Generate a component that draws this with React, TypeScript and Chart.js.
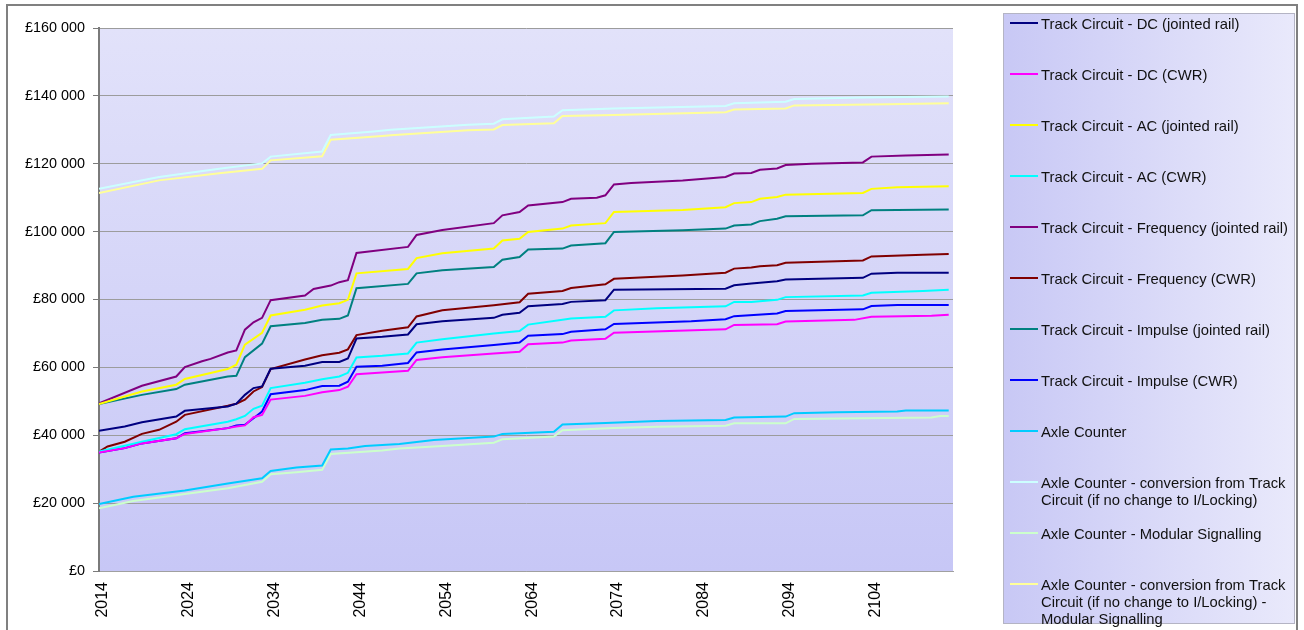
import React, { useEffect, useRef } from 'react';
import { Chart, registerables } from 'chart.js';

Chart.register(...registerables);

// Cumulative whole-life cost per train detection option, [year, £] at each change of slope
const DC_JOINTED: [number, number][] = [[2014,41300],[2017,42600],[2019,43800],[2023,45500],[2024,47200],[2029,48500],[2030,49300],[2031,51900],[2032,53900],[2033,54400],[2034,59600],[2038,60500],[2040,61600],[2042,61600],[2043,62600],[2044,68500],[2047,69000],[2050,69700],[2051,72700],[2054,73600],[2060,74600],[2061,75500],[2063,76100],[2064,78000],[2068,78700],[2069,79300],[2073,79800],[2074,82900],[2087,83200],[2088,84200],[2090,84700],[2091,84900],[2093,85400],[2094,85900],[2103,86400],[2104,87600],[2107,87900],[2113,87900]];
const DC_CWR: [number, number][] = [[2014,34900],[2017,36200],[2019,37600],[2023,39100],[2024,40400],[2029,42100],[2030,42600],[2031,42900],[2032,45300],[2033,46000],[2034,50500],[2038,51600],[2040,52700],[2042,53300],[2043,54300],[2044,58000],[2047,58500],[2050,59000],[2051,62200],[2054,63000],[2060,64100],[2063,64600],[2064,66800],[2068,67300],[2069,67900],[2073,68400],[2074,70200],[2087,71200],[2088,72500],[2093,72700],[2094,73500],[2102,74000],[2104,74900],[2111,75200],[2113,75500]];
const AC_JOINTED: [number, number][] = [[2014,49200],[2019,52900],[2023,54900],[2024,56600],[2029,59500],[2030,60800],[2031,66700],[2033,70200],[2034,75300],[2038,77000],[2040,78200],[2042,78900],[2043,79900],[2044,87700],[2050,89000],[2051,92200],[2054,93600],[2060,95000],[2061,97400],[2063,97900],[2064,99900],[2068,100900],[2069,101800],[2073,102500],[2074,105800],[2082,106400],[2087,107200],[2088,108400],[2090,108700],[2091,109700],[2093,110200],[2094,110900],[2103,111400],[2104,112600],[2107,113100],[2113,113400]];
const AC_CWR: [number, number][] = [[2014,35200],[2017,36900],[2019,38100],[2023,40300],[2024,41800],[2029,44000],[2030,44700],[2031,45700],[2032,47800],[2033,48700],[2034,53900],[2038,55500],[2040,56500],[2042,57300],[2043,58400],[2044,62900],[2047,63400],[2050,64100],[2051,67300],[2054,68300],[2060,70000],[2063,70700],[2064,72600],[2068,74000],[2069,74400],[2073,74900],[2074,76800],[2079,77400],[2087,78000],[2088,79300],[2090,79300],[2093,79900],[2094,80700],[2103,81200],[2104,82000],[2110,82500],[2113,82900]];
const FREQ_JOINTED: [number, number][] = [[2014,49400],[2019,54600],[2023,57300],[2024,60100],[2026,61800],[2027,62500],[2029,64400],[2030,65000],[2031,71100],[2032,73300],[2033,74600],[2034,79800],[2038,81200],[2039,83100],[2041,84100],[2042,85100],[2043,85700],[2044,93700],[2050,95500],[2051,99000],[2054,100500],[2060,102500],[2061,104800],[2063,105800],[2064,107700],[2068,108700],[2069,109700],[2072,110000],[2073,110700],[2074,113900],[2076,114300],[2082,115100],[2087,116100],[2088,117100],[2090,117300],[2091,118200],[2093,118600],[2094,119600],[2097,120000],[2103,120400],[2104,122100],[2108,122400],[2113,122700]];
const FREQ_CWR: [number, number][] = [[2014,35200],[2015,36700],[2017,38100],[2019,40400],[2021,41600],[2023,44000],[2024,46000],[2029,48700],[2030,49300],[2031,50500],[2032,52900],[2033,54200],[2034,59500],[2038,62300],[2040,63600],[2042,64300],[2043,65300],[2044,69500],[2047,70800],[2050,71800],[2051,75000],[2054,76800],[2060,78300],[2063,79200],[2064,81700],[2068,82500],[2069,83400],[2073,84500],[2074,86100],[2082,87100],[2087,87900],[2088,89100],[2090,89400],[2091,89800],[2093,90100],[2094,90800],[2103,91500],[2104,92700],[2110,93200],[2113,93400]];
const IMPULSE_JOINTED: [number, number][] = [[2014,49200],[2019,51900],[2023,53600],[2024,54900],[2029,57300],[2030,57500],[2031,63000],[2033,67000],[2034,72100],[2038,73100],[2040,74000],[2042,74300],[2043,75300],[2044,83300],[2050,84600],[2051,87700],[2054,88600],[2060,89600],[2061,91700],[2063,92500],[2064,94700],[2068,95000],[2069,95900],[2073,96600],[2074,99900],[2082,100400],[2087,100900],[2088,101800],[2090,102100],[2091,103100],[2093,103800],[2094,104500],[2103,104800],[2104,106300],[2113,106500]];
const IMPULSE_CWR: [number, number][] = [[2014,34900],[2017,36200],[2019,37600],[2023,39100],[2024,40600],[2029,42100],[2030,42900],[2031,43100],[2032,45000],[2033,47000],[2034,52100],[2038,53300],[2040,54500],[2042,54600],[2043,55800],[2044,60200],[2047,60500],[2050,61300],[2051,64400],[2054,65300],[2060,66600],[2063,67300],[2064,69300],[2068,69800],[2069,70500],[2073,71200],[2074,72800],[2083,73600],[2087,74200],[2088,75100],[2093,75900],[2094,76600],[2103,77100],[2104,78100],[2107,78400],[2113,78400]];
const AXLE_COUNTER: [number, number][] = [[2014,19700],[2018,21900],[2024,23700],[2029,25800],[2033,27300],[2034,29500],[2037,30500],[2040,31100],[2041,35800],[2043,36100],[2045,36800],[2049,37400],[2053,38600],[2060,39600],[2061,40400],[2067,41000],[2068,43200],[2073,43600],[2079,44200],[2087,44500],[2088,45200],[2094,45500],[2095,46500],[2100,46800],[2107,47000],[2108,47300],[2113,47300]];
const AXLE_CONVERSION: [number, number][] = [[2014,112600],[2021,116100],[2028,118500],[2033,120100],[2034,122100],[2040,123600],[2041,128500],[2046,129500],[2048,130000],[2057,131500],[2060,131800],[2061,133100],[2067,133900],[2068,135800],[2074,136300],[2087,137000],[2088,137800],[2094,138300],[2095,139100],[2103,139500],[2113,139800]];
const AXLE_MODULAR: [number, number][] = [[2014,18500],[2018,20600],[2024,22700],[2029,24400],[2033,26300],[2034,28500],[2037,29100],[2040,29800],[2041,34500],[2047,35500],[2049,36100],[2054,36800],[2060,37800],[2061,38800],[2067,39600],[2068,41500],[2074,42100],[2079,42500],[2087,42800],[2088,43500],[2094,43500],[2095,44800],[2103,45000],[2111,45200],[2112,45700],[2113,45700]];
const AXLE_CONVERSION_MODULAR: [number, number][] = [[2014,111400],[2021,115100],[2028,117200],[2033,118500],[2034,121000],[2040,122200],[2041,127100],[2047,128200],[2048,128400],[2057,129900],[2060,130100],[2061,131400],[2067,131900],[2068,134100],[2074,134400],[2087,135200],[2088,136000],[2094,136300],[2095,137200],[2106,137500],[2113,137800]];

const SERIES_NAMES = [
  'Track Circuit - DC (jointed rail)',
  'Track Circuit - DC (CWR)',
  'Track Circuit - AC (jointed rail)',
  'Track Circuit - AC (CWR)',
  'Track Circuit - Frequency (jointed rail)',
  'Track Circuit - Frequency (CWR)',
  'Track Circuit - Impulse (jointed rail)',
  'Track Circuit - Impulse (CWR)',
  'Axle Counter',
  'Axle Counter - conversion from Track Circuit (if no change to I/Locking)',
  'Axle Counter - Modular Signalling',
  'Axle Counter - conversion from Track Circuit (if no change to I/Locking) - Modular Signalling',
];
const SERIES_VALUES = [
  DC_JOINTED, DC_CWR, AC_JOINTED, AC_CWR, FREQ_JOINTED, FREQ_CWR,
  IMPULSE_JOINTED, IMPULSE_CWR, AXLE_COUNTER, AXLE_CONVERSION, AXLE_MODULAR, AXLE_CONVERSION_MODULAR,
];
const SERIES_COLORS = [
  '#000080', '#FF00FF', '#FFFF00', '#00FFFF', '#800080', '#800000',
  '#008080', '#0000FF', '#00CCFF', '#CCFFFF', '#CCFFCC', '#FFFF99',
];

const X_TICK_YEARS = [2014, 2024, 2034, 2044, 2054, 2064, 2074, 2084, 2094, 2104];
const Y_MIN = 0;
const Y_MAX = 160000;
const Y_STEP = 20000;

const FONT = '"Liberation Sans", Arial, sans-serif';

const formatPounds = (v: number) => '£' + String(v).replace(/\B(?=(\d{3})+(?!\d))/g, ' ');

function wrapText(ctx: CanvasRenderingContext2D, text: string, maxWidth: number): string[] {
  const words = text.split(' ');
  const lines: string[] = [];
  let cur = '';
  for (const w of words) {
    const test = cur ? cur + ' ' + w : w;
    if (cur && ctx.measureText(test).width > maxWidth) {
      lines.push(cur);
      cur = w;
    } else {
      cur = test;
    }
  }
  if (cur) lines.push(cur);
  return lines;
}

// White page, lavender gradient behind the plot area
const plotBackground = {
  id: 'plotBackground',
  beforeDraw(chart: any) {
    const { ctx, chartArea } = chart;
    ctx.save();
    ctx.fillStyle = '#ffffff';
    ctx.fillRect(0, 0, chart.width, chart.height);
    const g = ctx.createLinearGradient(0, chartArea.top, 0, chartArea.bottom);
    g.addColorStop(0, 'rgb(226,226,250)');
    g.addColorStop(1, 'rgb(199,199,246)');
    ctx.fillStyle = g;
    ctx.fillRect(chartArea.left, chartArea.top, chartArea.right - chartArea.left, chartArea.bottom - chartArea.top);
    ctx.restore();
  },
};

// Boxed legend on the right with wrapped labels, plus the outer frame
const sideLegend = {
  id: 'sideLegend',
  afterDraw(chart: any) {
    const { ctx } = chart;
    const boxX = 1003;
    const boxY = 13;
    const boxW = 291;
    const boxH = 610;
    ctx.save();
    const g = ctx.createLinearGradient(boxX, 0, boxX + boxW, 0);
    g.addColorStop(0, 'rgb(200,200,245)');
    g.addColorStop(1, 'rgb(233,233,251)');
    ctx.fillStyle = g;
    ctx.fillRect(boxX, boxY, boxW, boxH);
    ctx.strokeStyle = '#b4b4c4';
    ctx.lineWidth = 1;
    ctx.strokeRect(boxX + 0.5, boxY + 0.5, boxW, boxH);

    ctx.font = `14.8px ${FONT}`;
    ctx.textBaseline = 'middle';
    ctx.textAlign = 'left';
    chart.data.datasets.forEach((ds: any, i: number) => {
      const y = 23 + i * 51;
      ctx.strokeStyle = ds.borderColor;
      ctx.lineWidth = 2;
      ctx.beginPath();
      ctx.moveTo(1010, y);
      ctx.lineTo(1038, y);
      ctx.stroke();
      ctx.fillStyle = '#111111';
      wrapText(ctx, ds.label, 254).forEach((line, j) => {
        ctx.fillText(line, 1041, y + 1.5 + j * 17);
      });
    });

    ctx.strokeStyle = '#808080';
    ctx.lineWidth = 2;
    ctx.strokeRect(7, 5, 1290, 700);
    ctx.restore();
  },
};

export default function App() {
  const canvasRef = useRef<HTMLCanvasElement | null>(null);

  useEffect(() => {
    const canvas = canvasRef.current;
    if (!canvas) return;
    const chart = new Chart(canvas, {
      type: 'line',
      data: {
        datasets: SERIES_NAMES.map((name, i) => ({
          label: name,
          data: SERIES_VALUES[i].map(([x, y]) => ({ x, y })),
          borderColor: SERIES_COLORS[i],
          backgroundColor: SERIES_COLORS[i],
          borderWidth: 2,
          pointRadius: 0,
          tension: 0,
          fill: false,
        })),
      },
      options: {
        animation: false,
        responsive: false,
        devicePixelRatio: 1,
        layout: { padding: { left: 0, top: 28, right: 351, bottom: 0 } },
        plugins: {
          legend: { display: false },
          tooltip: { enabled: false },
        },
        scales: {
          x: {
            type: 'linear',
            min: 2014,
            max: 2113.5,
            afterBuildTicks: (axis: any) => {
              axis.ticks = X_TICK_YEARS.map((v) => ({ value: v }));
            },
            afterFit: (axis: any) => {
              axis.height = 59;
            },
            grid: { display: false },
            border: { display: true, color: '#a0a0a0', width: 1 },
            ticks: {
              minRotation: 90,
              maxRotation: 90,
              autoSkip: false,
              padding: 3,
              labelOffset: 4,
              color: '#000000',
              font: { family: FONT, size: 16 },
              callback: (v: any) => String(v),
            },
          },
          y: {
            min: Y_MIN,
            max: Y_MAX,
            afterFit: (axis: any) => {
              axis.width = 99;
            },
            grid: {
              color: '#9c9c9c',
              lineWidth: 1,
              drawTicks: true,
              tickLength: 6,
              tickColor: '#7a7a7a',
            },
            border: { display: true, color: '#7a7a7a', width: 2 },
            ticks: {
              stepSize: Y_STEP,
              padding: 8,
              color: '#000000',
              font: { family: FONT, size: 14.4 },
              callback: (v: any) => formatPounds(Number(v)),
            },
          },
        },
      },
      plugins: [plotBackground, sideLegend],
    });
    return () => chart.destroy();
  }, []);

  return (
    <div style={{ position: 'absolute', left: 0, top: 0, width: 1304, height: 630 }}>
      <canvas ref={canvasRef} width={1304} height={630} style={{ display: 'block' }} />
    </div>
  );
}
